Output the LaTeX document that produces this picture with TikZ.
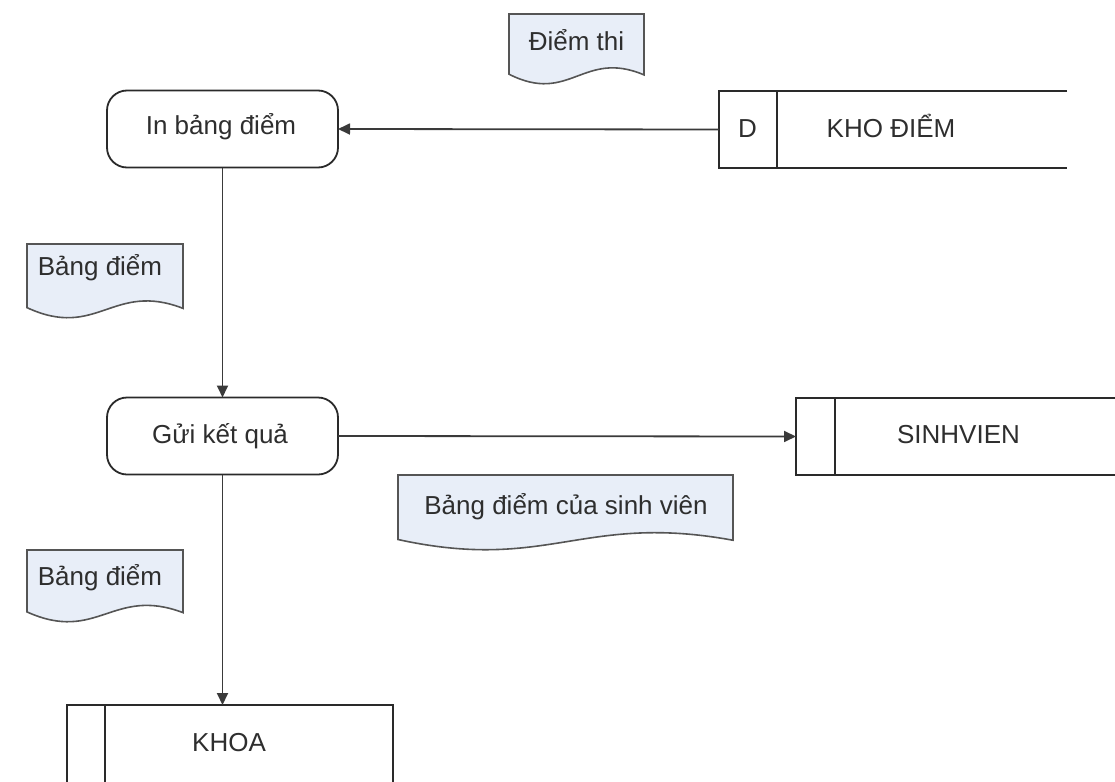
\documentclass[tikz,border=0pt]{standalone}
\usepackage{fontspec}
\setmainfont{Liberation Sans}
\usetikzlibrary{arrows.meta}

\definecolor{docfill}{HTML}{E8EEF8}
\definecolor{docline}{HTML}{555555}
\definecolor{boxline}{HTML}{2A2A2A}
\definecolor{flowline}{HTML}{3A3A3A}
\definecolor{txt}{HTML}{2E2E2E}

% document symbol with a wavy lower edge: #1,#2 top-left corner, #3 width, #4 height
\newcommand\wavedoc[4]{%
  \draw[docshape] (#1,#2) -- (#1+#3,#2) -- (#1+#3,#2+0.87*#4)
    .. controls (#1+0.55*#3,#2+0.5*#4) and (#1+0.45*#3,#2+1.3*#4) .. (#1,#2+0.86*#4) -- cycle;}

\tikzset{
  every node/.style={font=\fontsize{26}{30}\selectfont, text=txt},
  process/.style={draw=boxline, line width=1.8pt, rounded corners=20pt,
    minimum width=231pt, minimum height=77pt, inner sep=0pt, outer sep=0pt},
  storebox/.style={minimum height=77pt, inner sep=0pt, outer sep=0pt},
  storeline/.style={draw=boxline, line width=2pt},
  docshape/.style={fill=docfill, draw=docline, line width=1.6pt},
  label/.style={anchor=base, inner sep=0pt},
  flow/.style={draw=flowline, line width=1.8pt, -{Triangle[length=12pt,width=11pt]}},
}

\begin{document}
\begin{tikzpicture}[x=1pt,y=-1pt]
\useasboundingbox (0,0) rectangle (1115,781);
\clip (0,0) rectangle (1115,781);

% processes
\node[process] (inbd) at (222.5,129) {};
\node[label] (inbdt) at (221,135) {In bảng điểm};
\node[process] (gui) at (222.5,436) {};
\node[label] (guit) at (220,443) {Gửi kết quả};

% data stores (open on the right)
\node[storebox, minimum width=348pt] (kho) at (893,129.5) {};
\draw[storeline] (kho.north east) -- (kho.north west) -- (kho.south west) -- (kho.south east);
\draw[storeline] (777,91) -- (777,168);
\node[label] (khod) at (747.5,137) {D};
\node[label] (khot) at (891,137) {KHO ĐIỂM};

\node[storebox, minimum width=330pt] (sv) at (961,436.5) {};
\draw[storeline] (sv.north east) -- (sv.north west) -- (sv.south west) -- (sv.south east);
\draw[storeline] (835,398) -- (835,475);
\node[label] (svt) at (958.5,443) {SINHVIEN};

\node[storebox, minimum width=326pt, minimum height=90pt] (khoa) at (230,750) {};
\draw[storeline] (khoa.south west) -- (khoa.north west) -- (khoa.north east) -- (khoa.south east);
\draw[storeline] (105,705) -- (105,795);
\node[label] (khoat) at (229,751) {KHOA};

% flows
\draw[flow] (kho.west) -- (inbd.east);
\draw[flow] (inbd.south) -- (gui.north);
\draw[flow] (gui.east) -- (sv.west);
\draw[flow] (gui.south) -- (gui.south |- khoa.north);

% data documents
\wavedoc{509}{14}{135}{70}
\node[label] (dthi) at (576.5,51) {Điểm thi};
\wavedoc{27}{244}{156}{74}
\node[label] (bd1) at (100,275) {Bảng điểm};
\wavedoc{398}{475}{335}{75}
\node[label] (bdsv) at (566,514) {Bảng điểm của sinh viên};
\wavedoc{27}{550}{156}{72}
\node[label] (bd2) at (100,585) {Bảng điểm};
\end{tikzpicture}
\end{document}
